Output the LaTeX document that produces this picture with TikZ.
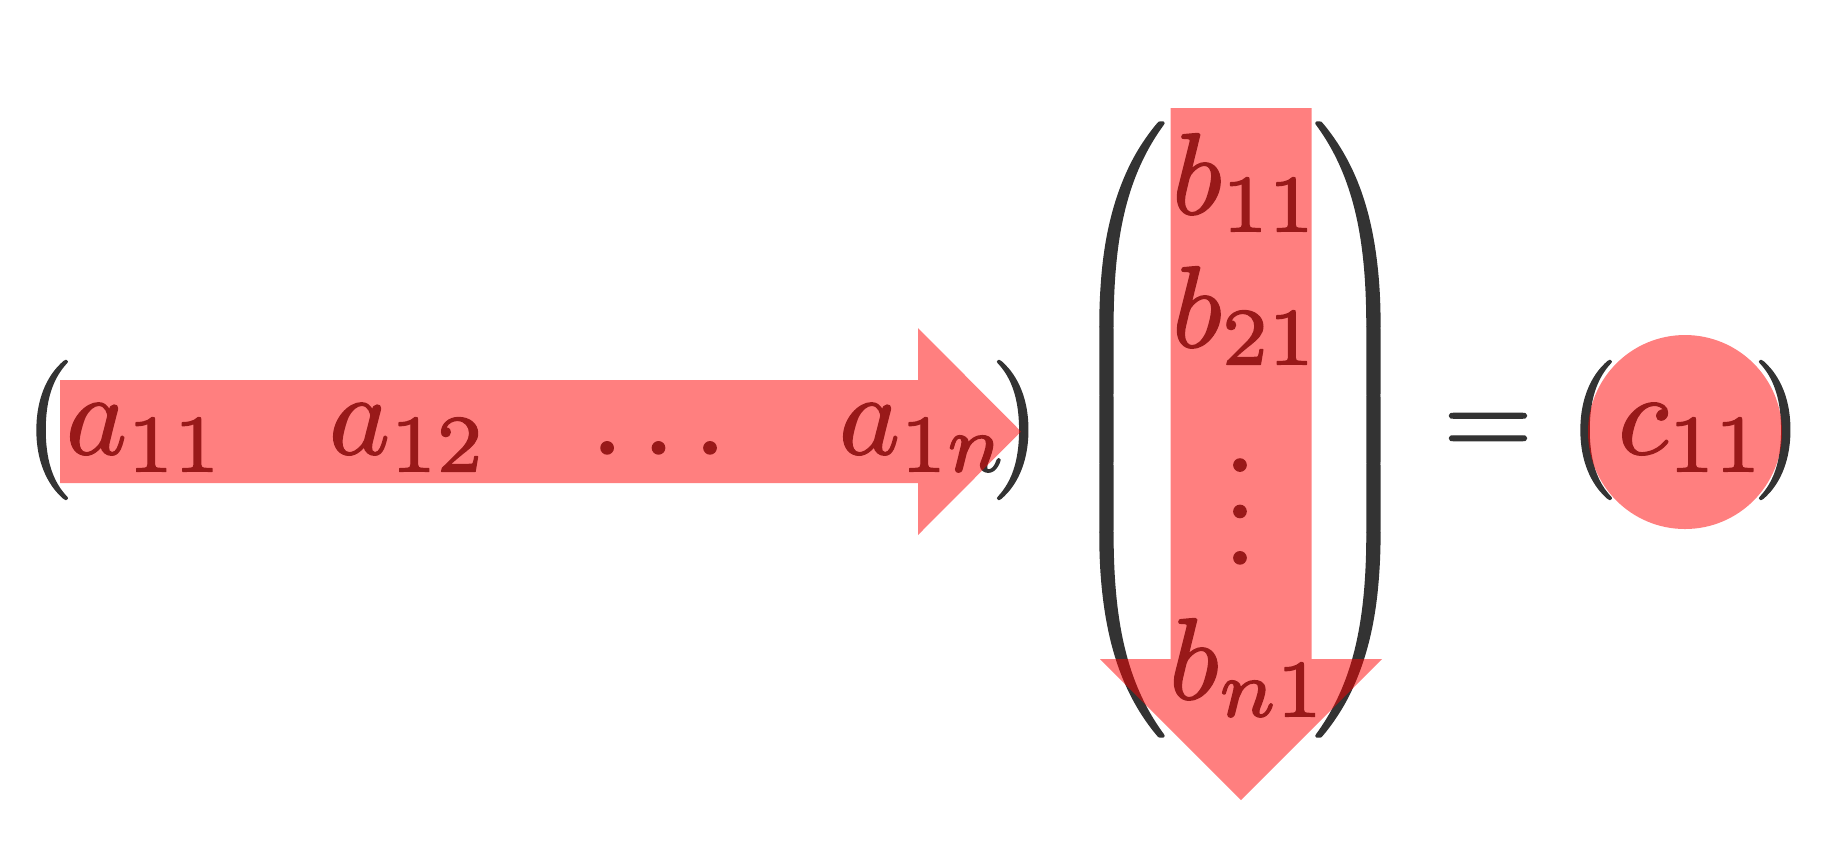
\documentclass[tikz,border=0pt]{standalone}
\usepackage{graphicx}
\definecolor{ink}{HTML}{333333}
\newcommand{\hv}{\special{pdf:literal direct 2 Tr 0.12 w 1 j}}
\tikzset{
  entry/.style={inner sep=0pt, outer sep=0pt, text=ink, anchor=base west, font=\hv},
  delim/.style={inner sep=0pt, outer sep=0pt, text=ink, anchor=center, font=\hv},
  hl/.style={fill=red, fill opacity=0.5, draw=none},
}
\begin{document}
\begin{tikzpicture}[x=0.0862pt, y=-0.0862pt]
\useasboundingbox (0,0) rectangle (1821,849);
% row vector
\node[delim] (lpA) at (46,430) {$\bigl($};
\node[entry] (a11) at (66,454) {$a_{11}$};
\node[entry] (a12) at (329,454) {$a_{12}$};
\node[entry] (adots) at (591,454) {$\ldots$};
\node[entry] (a1n) at (839,454) {$a_{1n}$};
\node[delim] (rpA) at (1019,430) {$\bigr)$};
% column vector
\node[delim] (lpB) at (1117,429.5) {\scalebox{1}[0.982]{\nulldelimiterspace=0pt$\left(\vcenter{\hrule height 56pt width 0pt}\right.$}};
\node[entry] (b11) at (1172,214) {$b_{11}$};
\node[entry] (b21) at (1172,347) {$b_{21}$};
\node[delim, anchor=base] (bdots) at (1240,564) {$\vdots$};
\node[entry] (bn1) at (1169,699) {$b_{n1}$};
\node[delim] (rpB) at (1363,429.5) {\scalebox{1}[0.982]{\nulldelimiterspace=0pt$\left.\vcenter{\hrule height 56pt width 0pt}\right)$}};
% equals and result
\node[delim, anchor=base] (eq) at (1488,456) {$=$};
\node[delim] (lpC) at (1590,430) {$\bigl($};
\node[entry] (c11) at (1618,454) {$c_{11}$};
\node[delim] (rpC) at (1781,430) {$\bigr)$};
% highlights
\fill[hl] (60,380) -- (918,380) -- (918,328) -- (1021,431.5) -- (918,535) -- (918,483) -- (60,483) -- cycle;
\fill[hl] (1170.5,108) -- (1311.5,108) -- (1311.5,659) -- (1382,659) -- (1241,800) -- (1100,659) -- (1170.5,659) -- cycle;
\fill[hl] (1685,432) circle[radius=97];
\end{tikzpicture}
\end{document}
